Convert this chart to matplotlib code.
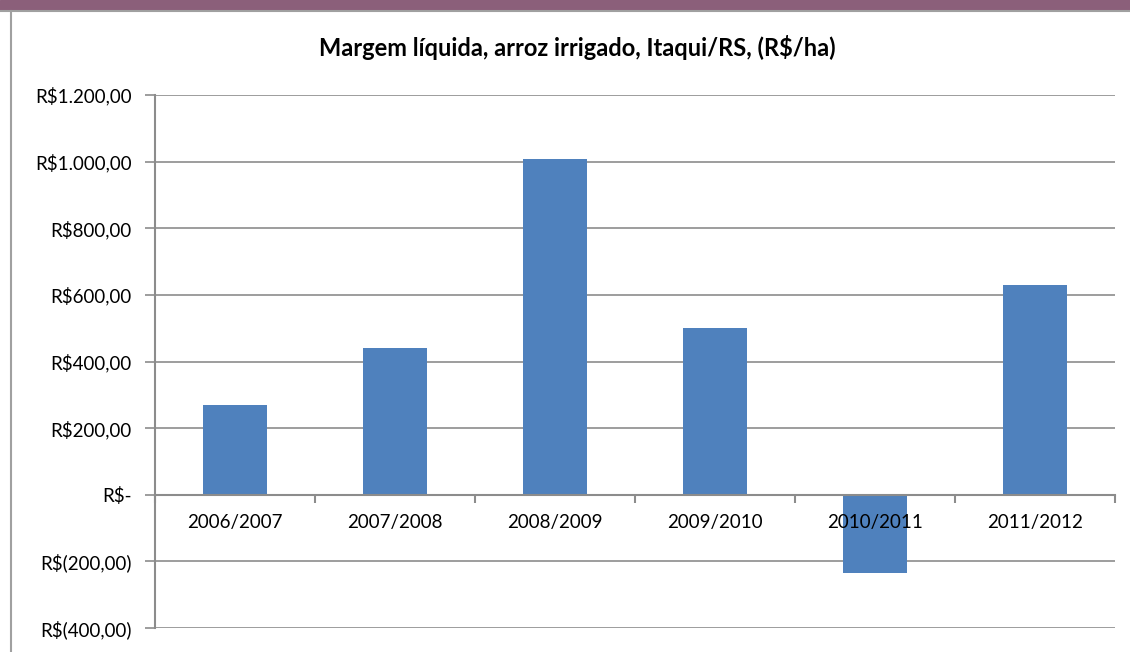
import matplotlib.pyplot as plt
import numpy as np
from matplotlib.patches import Rectangle
from matplotlib.lines import Line2D

# Dados: margem líquida por safra (R$/ha)
safras = ['2006/2007', '2007/2008', '2008/2009', '2009/2010', '2010/2011', '2011/2012']
margem = [268, 442, 1007, 502, -235, 629]
y_ticks = [-400, -200, 0, 200, 400, 600, 800, 1000, 1200]
y_labels = ['R$(400,00)', 'R$(200,00)', 'R$-', 'R$200,00', 'R$400,00',
            'R$600,00', 'R$800,00', 'R$1.000,00', 'R$1.200,00']

plt.rcParams['font.family'] = ['Lato', 'DejaVu Sans']
grid_col = '#8c8c8c'

fig = plt.figure(figsize=(11.3, 6.52), dpi=100)

# faixa roxa no topo e bordas cinza
fig.patches.append(Rectangle((0, 1 - 10 / 652), 1, 10 / 652, transform=fig.transFigure,
                             color='#8b5f7a', zorder=0))
fig.lines.append(Line2D([0, 1], [1 - 11 / 652] * 2, transform=fig.transFigure,
                        color='#a0a0a0', lw=1.5))
fig.lines.append(Line2D([10.5 / 1130] * 2, [0, 1 - 11 / 652], transform=fig.transFigure,
                        color='#a0a0a0', lw=1.5))

ax = fig.add_axes([155 / 1130, 1 - 628 / 652, 960 / 1130, 533 / 652])
x = np.arange(len(safras))
ax.bar(x, margem, width=0.4, color='#4f81bd', zorder=1)

# linhas de grade abaixo das barras (rótulos ficam por cima)
for v in y_ticks:
    if v != 0:
        ax.axhline(v, color=grid_col, lw=1.2, zorder=0.5)

ax.set_xlim(-0.5, len(safras) - 0.5)
ax.set_ylim(-400, 1200)
ax.set_yticks(y_ticks)
ax.set_yticklabels(y_labels, fontsize=13.5)
ax.tick_params(axis='y', length=7, color=grid_col, width=1.2, pad=10)

ax.spines['top'].set_visible(False)
ax.spines['right'].set_visible(False)
ax.spines['left'].set_color(grid_col)
ax.spines['left'].set_linewidth(1.5)
ax.spines['bottom'].set_position(('data', 0))
ax.spines['bottom'].set_color(grid_col)
ax.spines['bottom'].set_linewidth(1.5)

ax.set_xticks(x)
ax.set_xticklabels(safras, fontsize=13.5)
ax.tick_params(axis='x', which='major', length=0, pad=14)
ax.set_xticks(np.arange(-0.5, len(safras)), minor=True)
ax.tick_params(axis='x', which='minor', length=6, color=grid_col, width=1.5)

fig.text(577 / 1130, 1 - 47 / 652, 'Margem líquida, arroz irrigado, Itaqui/RS, (R$/ha)',
         ha='center', va='center', fontsize=17, fontweight='bold')

fig.savefig('out.png', dpi=100)
